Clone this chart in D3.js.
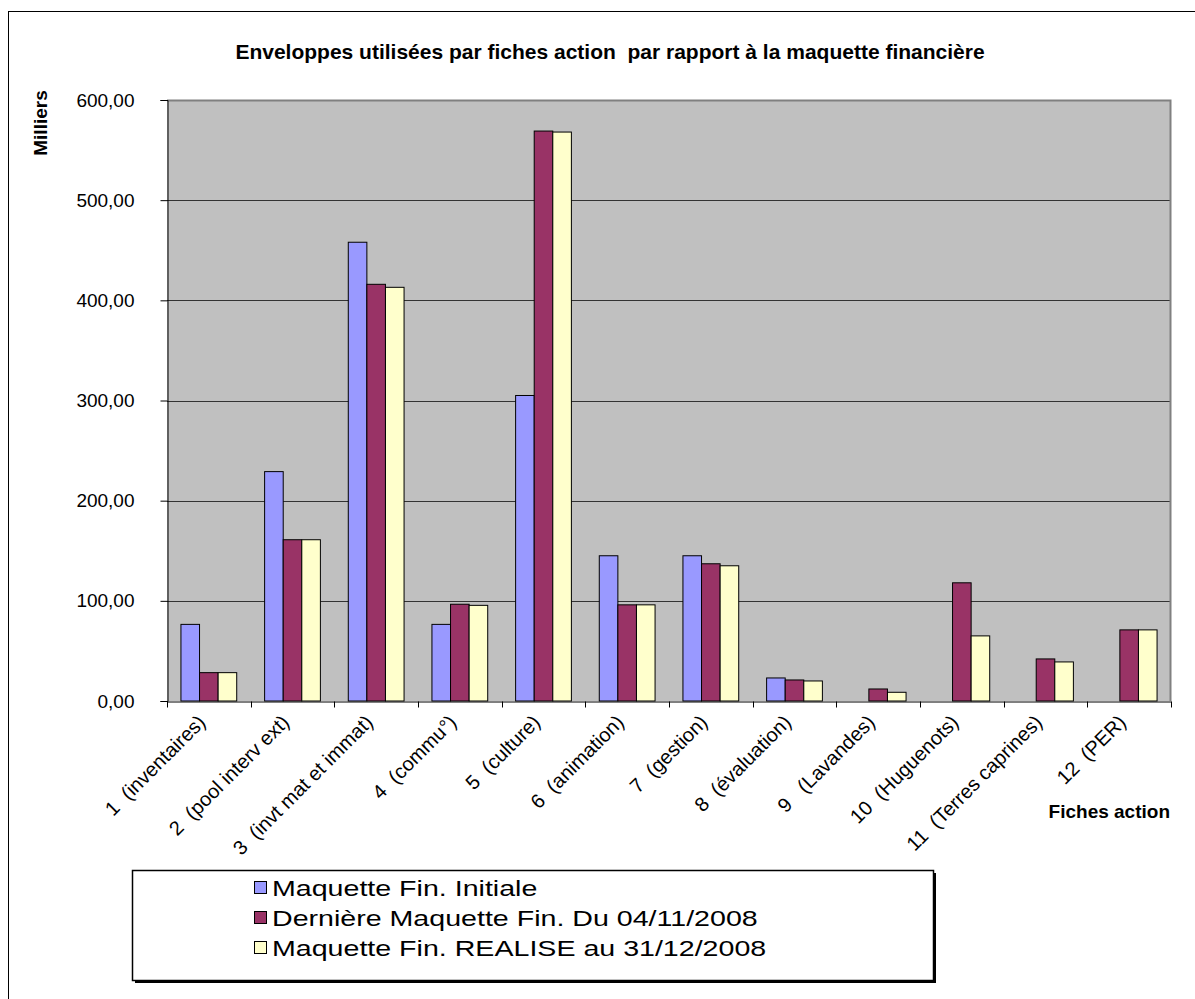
<!DOCTYPE html>
<html lang="fr">
<head>
<meta charset="UTF-8">
<title>Enveloppes utilisées par fiches action</title>
<script src="https://d3js.org/d3.v7.min.js"></script>
<style>
  html, body { margin: 0; padding: 0; background: #fff; }
  svg text { font-family: "Liberation Sans", Arial, sans-serif; fill: #000; }
</style>
</head>
<body>
<div id="vis"></div>
<script>
// données (milliers)
var categories = ['1  (inventaires)', '2  (pool interv ext)', '3  (invt mat et immat)', '4  (commu°)',
  '5  (culture)', '6  (animation)', '7  (gestion)', '8  (évaluation)', '9   (Lavandes)',
  '10  (Huguenots)', '11  (Terres caprines)', '12  (PER)'];
var seriesNames = ['Maquette Fin. Initiale', 'Dernière Maquette Fin. Du 04/11/2008', 'Maquette Fin. REALISE au 31/12/2008'];
var initiale = [76.5, 229, 458, 76.5, 305, 145, 145, 23, 0, 0, 0, 0];
var derniere = [28.3, 161, 416, 96.6, 569, 96, 137, 21, 12, 118, 42, 71];
var realise  = [28.3, 161, 413, 95.5, 568, 96, 135, 20, 8.7, 65, 39, 71];
var yTicks = [0, 100, 200, 300, 400, 500, 600];
var colors = ['#9999ff', '#993366', '#ffffcc'];

var width = 1195, height = 999;
var plot = {left: 167, right: 1171, top: 100, bottom: 701};

var svg = d3.select('#vis').append('svg')
    .attr('width', width)
    .attr('height', height);

// cadre du graphique
svg.append('rect')
    .attr('x', 8.5).attr('y', 11.5)
    .attr('width', 1300).attr('height', 1100)
    .attr('fill', '#fff').attr('stroke', '#000');

svg.append('text')
    .attr('x', 610).attr('y', 59)
    .attr('text-anchor', 'middle')
    .style('font-weight', 'bold').style('font-size', '21px')
    .style('white-space', 'pre')
    .text('Enveloppes utilisées par fiches action  par rapport à la maquette financière');

var x = d3.scaleBand()
    .domain(categories)
    .range([plot.left, plot.right]);

var w = x.bandwidth() / 4.5;
var xSub = d3.scaleBand()
    .domain([0, 1, 2])
    .range([0.75 * w, 3.75 * w]);

var y = d3.scaleLinear()
    .domain([0, 600])
    .range([plot.bottom, plot.top]);

// fond gris
svg.append('rect')
    .attr('x', plot.left).attr('y', plot.top)
    .attr('width', plot.right - plot.left).attr('height', plot.bottom - plot.top)
    .attr('fill', '#c0c0c0');

// quadrillage
svg.append('g')
    .selectAll('line')
    .data(yTicks.slice(1, -1))
    .enter().append('line')
    .attr('x1', plot.left).attr('x2', plot.right)
    .attr('y1', function(d) { return Math.round(y(d)) + 0.5; })
    .attr('y2', function(d) { return Math.round(y(d)) + 0.5; })
    .attr('stroke', '#333').attr('stroke-width', 1);

// bordures haut / droite
svg.append('path')
    .attr('d', 'M' + plot.left + ',' + (plot.top + 0.5) + 'H' + (plot.right - 0.5) + 'V' + plot.bottom)
    .attr('fill', 'none').attr('stroke', '#808080').attr('stroke-width', 2);

// barres
var series = [initiale, derniere, realise];
series.forEach(function(values, s) {
    svg.append('g')
        .selectAll('rect')
        .data(values.map(function(v, i) { return {cat: categories[i], value: v}; })
                    .filter(function(d) { return d.value > 0; }))
        .enter().append('rect')
        .attr('x', function(d) { return x(d.cat) + xSub(s); })
        .attr('width', xSub.bandwidth())
        .attr('y', function(d) { return y(d.value); })
        .attr('height', function(d) { return y(0) - y(d.value); })
        .attr('fill', colors[s])
        .attr('stroke', '#000').attr('stroke-width', 1);
});

// axe Y
var yAxis = d3.axisLeft(y)
    .tickValues(yTicks)
    .tickSize(7)
    .tickPadding(26)
    .tickFormat(function(d) { return d.toFixed(2).replace('.', ','); });

svg.append('g')
    .attr('transform', 'translate(' + (plot.left + 0.5) + ',0)')
    .call(yAxis)
    .call(function(g) {
        g.select('.domain').attr('stroke', '#000');
        g.selectAll('.tick line').attr('stroke', '#000');
        g.selectAll('.tick text')
            .style('font-size', '19px')
            .style('font-family', '"Liberation Sans", Arial, sans-serif');
    });

// axe X
var xAxis = d3.axisBottom(x).tickSize(0).tickFormat('');
var xg = svg.append('g')
    .attr('transform', 'translate(0,' + (plot.bottom + 0.5) + ')')
    .call(xAxis);
xg.select('.domain').attr('stroke', '#000');
xg.selectAll('.tick').remove();

xg.selectAll('.sep')
    .data(d3.range(categories.length + 1))
    .enter().append('line')
    .attr('x1', function(i) { return Math.round(plot.left + i * x.step()) + 0.5; })
    .attr('x2', function(i) { return Math.round(plot.left + i * x.step()) + 0.5; })
    .attr('y1', 0).attr('y2', 6)
    .attr('stroke', '#000');

xg.selectAll('.lbl')
    .data(categories)
    .enter().append('text')
    .attr('class', 'lbl')
    .attr('text-anchor', 'end')
    .style('font-size', '20px')
    .style('white-space', 'pre')
    .attr('transform', function(d) {
        return 'translate(' + (x(d) + x.bandwidth() / 2 - 7) + ',17) rotate(-45)';
    })
    .attr('dy', '0.35em')
    .text(function(d) { return d; });

// titres des axes
svg.append('text')
    .attr('transform', 'translate(47,123) rotate(-90)')
    .attr('text-anchor', 'middle')
    .style('font-weight', 'bold').style('font-size', '19px')
    .text('Milliers');

svg.append('text')
    .attr('x', 1170).attr('y', 818)
    .attr('text-anchor', 'end')
    .style('font-weight', 'bold').style('font-size', '19px')
    .text('Fiches action');

// légende
var legend = {x: 132, y: 870, w: 801, h: 110};
svg.append('rect')
    .attr('x', legend.x + 3).attr('y', legend.y + 3)
    .attr('width', legend.w).attr('height', legend.h)
    .attr('fill', '#000');
svg.append('rect')
    .attr('x', legend.x + 0.5).attr('y', legend.y + 0.5)
    .attr('width', legend.w).attr('height', legend.h)
    .attr('fill', '#fff').attr('stroke', '#000').attr('stroke-width', 1.5);

var items = svg.selectAll('.leg')
    .data(seriesNames)
    .enter().append('g')
    .attr('transform', function(d, i) { return 'translate(254,' + (888 + i * 30) + ')'; });
items.append('rect')
    .attr('x', 0.5).attr('y', -6.5)
    .attr('width', 12).attr('height', 12)
    .attr('fill', function(d, i) { return colors[i]; })
    .attr('stroke', '#000');
items.append('text')
    .attr('transform', 'translate(18,0) scale(1.3,1)')
    .attr('dy', '0.36em')
    .style('font-size', '22px')
    .text(function(d) { return d; });
</script>
</body>
</html>
